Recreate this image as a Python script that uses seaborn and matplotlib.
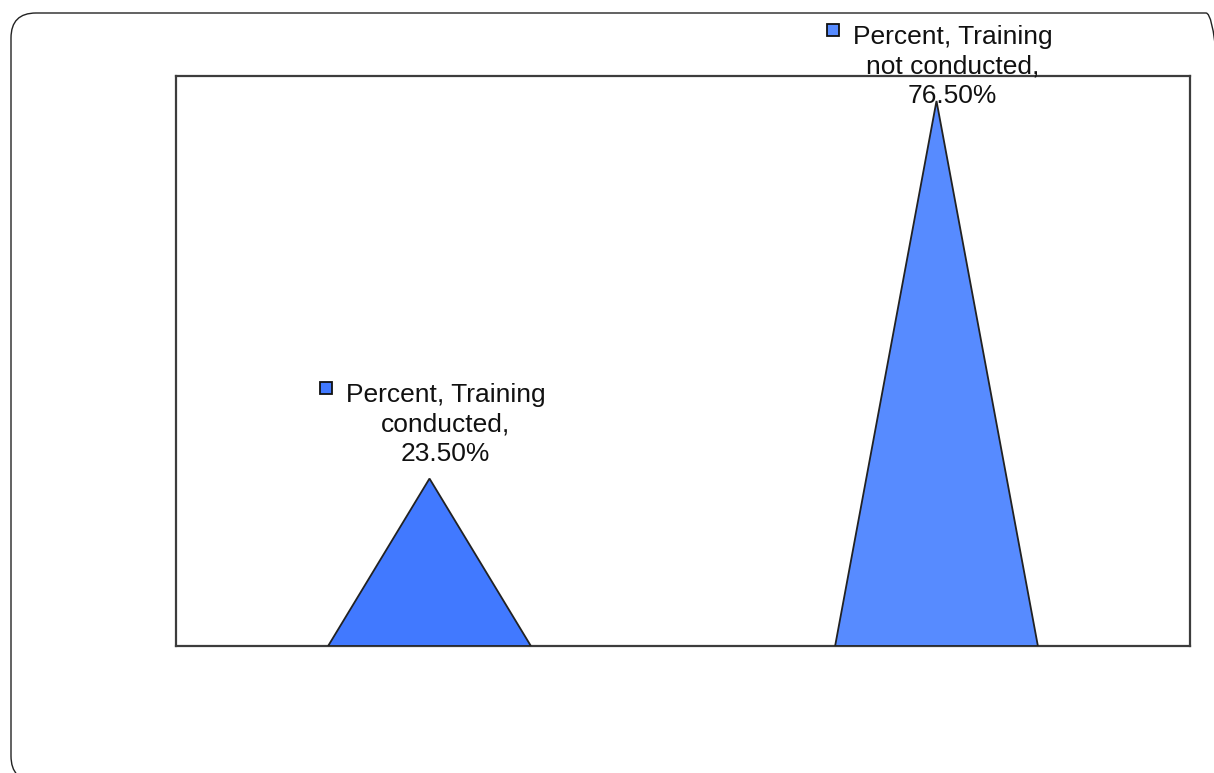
import matplotlib
matplotlib.use("Agg")
import matplotlib.pyplot as plt
import seaborn as sns
import pandas as pd
from matplotlib.patches import Polygon, FancyBboxPatch

# data
categories = ["Training conducted", "Training not conducted"]
percents = [23.5, 76.5]
label_lines = ["Percent, Training\nconducted,\n23.50%",
               "Percent, Training\nnot conducted,\n76.50%"]
colors = ["#4179FF", "#578BFF"]

df = pd.DataFrame({"category": categories, "percent": percents})

sns.set_style("white")
plt.rcParams['font.family'] = ['Liberation Sans', 'DejaVu Sans']

fig = plt.figure(figsize=(12.14, 7.73), dpi=100)
ax = fig.add_axes([176 / 1214, 1 - 646 / 773, 1014 / 1214, 570 / 773])

sns.barplot(data=df, x="category", y="percent", hue="category",
            palette=colors, width=0.4, legend=False, ax=ax)

# turn each bar into a triangle (same base, peak at the value)
for bar, col in zip(list(ax.patches), colors):
    x0, w, h = bar.get_x(), bar.get_width(), bar.get_height()
    tri = Polygon([(x0, 0), (x0 + w / 2, h), (x0 + w, 0)], closed=True,
                  facecolor=col, edgecolor="#222222", linewidth=1.3, zorder=3)
    ax.add_patch(tri)
    bar.remove()

ax.set_ylim(0, 80)
ax.set_xlim(-0.5, 1.5)
ax.set_xticks([])
ax.set_yticks([])
ax.set_xlabel("")
ax.set_ylabel("")
for s in ax.spines.values():
    s.set_color("#3c3c3c")
    s.set_linewidth(1.6)
    s.set_visible(True)

# data labels with small legend key square
text_offsets = [13, -7]
for i, (val, txt, col, dy) in enumerate(zip(percents, label_lines, colors, text_offsets)):
    ax.annotate(txt, xy=(i, val), xytext=(16, dy), textcoords="offset pixels",
                ha="center", va="bottom", fontsize=19, linespacing=1.28,
                color="#111111", annotation_clip=False, zorder=5)
    ax.plot([i], [val], marker="s", markersize=8, markerfacecolor=col,
            markeredgecolor="#111111", markeredgewidth=1.3, clip_on=False,
            transform=ax.transData + matplotlib.transforms.ScaledTranslation(
                -104 / 100, (dy + 78) / 100, fig.dpi_scale_trans), zorder=5)

# rounded outer frame
frame = FancyBboxPatch((0.11, -0.08), 12.2, 7.68,
                       boxstyle="round,pad=0,rounding_size=0.25",
                       transform=fig.dpi_scale_trans, facecolor="none",
                       edgecolor="#222222", linewidth=1.0)
fig.patches.append(frame)

fig.savefig("out.png", dpi=100)
